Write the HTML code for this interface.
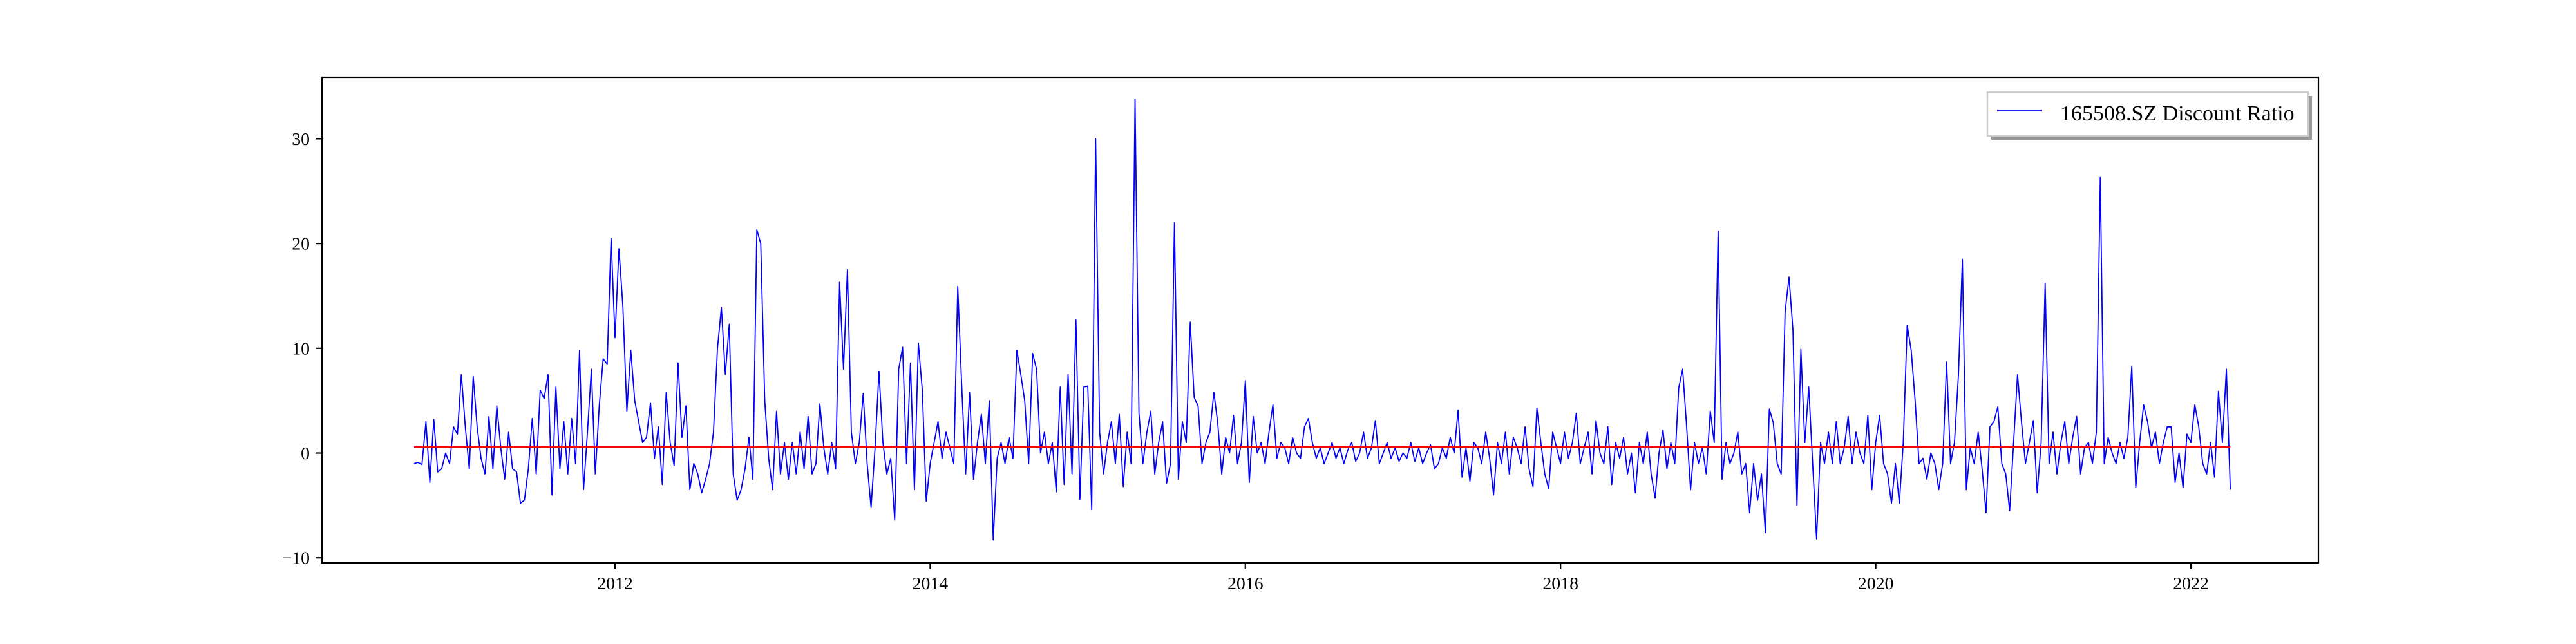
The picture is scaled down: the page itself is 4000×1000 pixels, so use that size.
<!DOCTYPE html>
<html><head><meta charset="utf-8"><style>
html,body{margin:0;padding:0;background:#fff;}
svg{display:block;}
text{font-family:"Liberation Serif","Times New Roman",serif;fill:#000;}
</style></head>
<body>
<svg id="chart" width="4000" height="1000" viewBox="0 0 4000 1000" xmlns="http://www.w3.org/2000/svg">
<rect x="0" y="0" width="4000" height="1000" fill="#fff"/>
<g id="plot"></g>
<g id="axes"></g>
<g id="legend">
  <rect x="3092" y="149" width="498" height="68" fill="#999"/>
  <rect x="3086" y="143" width="498" height="68" fill="#fff" stroke="#ccc" stroke-width="2.5"/>
  <line x1="3101" y1="172" x2="3171" y2="172" stroke="#0000ff" stroke-width="1.8"/>
  <text x="3199" y="187" font-size="34">165508.SZ Discount Ratio</text>
</g>
</svg>
<script>
// ---- data ----
const startYear = 2010.725;
const stepYears = 0.025;
const values = [
-1,-0.9,-1.1,3,-2.8,3.2,-1.8,-1.5,0,-1,2.5,
1.8,7.5,2.5,-1.5,7.3,2.5,-0.5,-2,3.5,-1.5,4.5,0.5,-2.5,2,-1.5,-1.8,-4.8,-4.5,-1.5,3.3,-2,6,5.2,7.5,-4,6.3,-1.5,3,-2,3.3,-1,9.8,-3.5,2,8,-2,4.5,9,8.5,20.5,
11,19.5,14,4,9.8,5,3,1,1.5,4.8,-0.5,2.5,-3,5.8,1,-1.2,8.6,1.5,4.5,-3.5,-1,-2,-3.8,-2.5,-1,2,10,13.9,7.5,12.3,-2,-4.5,-3.5,-1.5,1.5,-2.5,21.3,20,5,-0.5,
-3.5,4,-2,1,-2.5,1,-2,2,-1.5,3.5,-2,-1,4.7,0.5,-2,1,-1.5,16.3,8,17.5,2,-1,1,5.7,-1,-5.2,0.5,7.8,1,-2,-0.5,-6.4,8,10.1,-1,8.6,-3.5,10.5,6,-4.6,
-1,1,3,-0.5,2,0.5,-1,15.9,6.5,-2,5.8,-2.5,1,3.7,-1,5,-8.3,-0.5,1,-1,1.5,-0.5,9.8,7.5,5,-1,9.5,8,0,2,-1,1,-3.7,6.3,-3,7.5,-2,12.7,-4.4,6.3,
6.4,-5.4,30,2,-2,1,3,-1,3.7,-3.2,2,-1,33.8,3.8,-1,2,4,-2,1,3,-2.9,-1,22,-2.5,3,1,12.5,5.3,4.5,-1,1,2,5.8,2.8,-2,1.5,0,3.6,-1,1,
6.9,-2.8,3.5,0,1,-1,2,4.6,-0.5,1,0.5,-1,1.5,0,-0.5,2.5,3.3,1,-0.5,0.5,-1,0,1,-0.5,0.5,-1,0.3,1,-0.8,0,2,-0.5,0.5,3.1,-1,0,1,-0.5,0.5,-0.8,
0,-0.5,1,-0.8,0.5,-1,0,0.8,-1.5,-1,0.5,-0.5,1.5,0,4.1,-2.3,0.5,-2.7,1,0.5,-1,2,-0.5,-4,1,-1,2,-2,1.5,0.5,-1,2.5,-1.5,-3.2,4.3,1,-2,-3.4,2,0.5,
-1,2,-0.5,1,3.8,-1,0.5,2,-2,3.1,0,-1,2.5,-3,1,-0.5,1.5,-2,0,-3.8,1,-1,2,-2,-4.3,0,2.2,-1.5,1,-1,6.2,8,2.5,-3.5,1,-1,0.5,-2,4,1,
21.2,-2.5,1,-1,0,2,-2,-1,-5.7,-1,-4.5,-2,-7.6,4.2,2.9,-1,-2,13.5,16.8,11.7,-5,9.9,1,6.3,-1,-8.2,1,-1,2,-1,3,-1,0.5,3.5,-1,2,0,-1,3.6,-3.5,
1,3.6,-1,-2,-4.8,-1,-4.8,1,12.2,9.8,5,-1,-0.5,-2.5,0,-1,-3.5,-1,8.7,-1,1,7.5,18.5,-3.5,0.5,-1,2,-1.5,-5.7,2.5,3,4.4,-1,-2,-5.5,1,7.5,3,-1,1,
3.1,-3.8,1,16.2,-1,2,-2,1,3,-1,1.5,3.5,-2,0.5,1,-1,2,26.3,-1,1.5,0,-1,1,-0.5,1.5,8.3,-3.3,1,4.6,3,0.5,2,-1,1,2.5,2.5,-2.8,0,-3.3,1.8,
1,4.6,2.5,-1,-2,1,-2.3,5.9,1,8,-3.5
];
const meanLine = [0.55];
const xTickYears = [2012, 2014, 2016, 2018, 2020, 2022];
const xTickLabels = ["2012", "2014", "2016", "2018", "2020", "2022"];
const yTickValues = [-10, 0, 10, 20, 30];
const yTickLabels = ["\u221210", "0", "10", "20", "30"];

// ---- axes geometry ----
const AX = {left: 500, right: 3600, top: 120, bottom: 874};
function xScale(yr) { return 955 + (yr - 2012) * 244.7; }
function yScale(v) { return 703.5 - v * 16.27; }

const NS = "http://www.w3.org/2000/svg";
function mk(tag, attrs, parent) {
  const el = document.createElementNS(NS, tag);
  for (const k in attrs) el.setAttribute(k, attrs[k]);
  parent.appendChild(el);
  return el;
}
const plot = document.getElementById("plot");
const axes = document.getElementById("axes");

// series line
let d = "";
values.forEach((v, i) => {
  const x = xScale(startYear + i * stepYears);
  const y = yScale(v);
  d += (i === 0 ? "M" : "L") + x.toFixed(1) + " " + y.toFixed(1);
});
const series = mk("path", {d: d, fill: "none", stroke: "#0000ff", "stroke-width": "1.8", "stroke-linejoin": "round"}, plot);



// mean line
const x0 = xScale(startYear), x1 = xScale(startYear + (values.length - 1) * stepYears);
const ml = mk("line", {x1: x0, x2: x1, y1: yScale(meanLine[0]), y2: yScale(meanLine[0]), stroke: "#ff0000", "stroke-width": "3"}, plot);



// spines
const frame = mk("rect", {x: AX.left, y: AX.top, width: AX.right - AX.left, height: AX.bottom - AX.top, fill: "none", stroke: "#000", "stroke-width": "2.2"}, axes);



// x ticks
xTickYears.forEach((yr, i) => {
  const x = xScale(yr);
  const t = mk("line", {x1: x, x2: x, y1: AX.bottom, y2: AX.bottom + 10, stroke: "#000", "stroke-width": "2.2"}, axes);
  
  
  const lb = mk("text", {x: x, y: 915, "font-size": "27.8", "text-anchor": "middle"}, axes);
  lb.textContent = xTickLabels[i];
  
  
});

// y ticks
yTickValues.forEach((v, i) => {
  const y = yScale(v);
  const t = mk("line", {x1: AX.left - 10, x2: AX.left, y1: y, y2: y, stroke: "#000", "stroke-width": "2.2"}, axes);
  
  
  const lb = mk("text", {x: AX.left - 19, y: y + 9.5, "font-size": "27.8", "text-anchor": "end"}, axes);
  lb.textContent = yTickLabels[i];
  
  
});
</script>
</body></html>
